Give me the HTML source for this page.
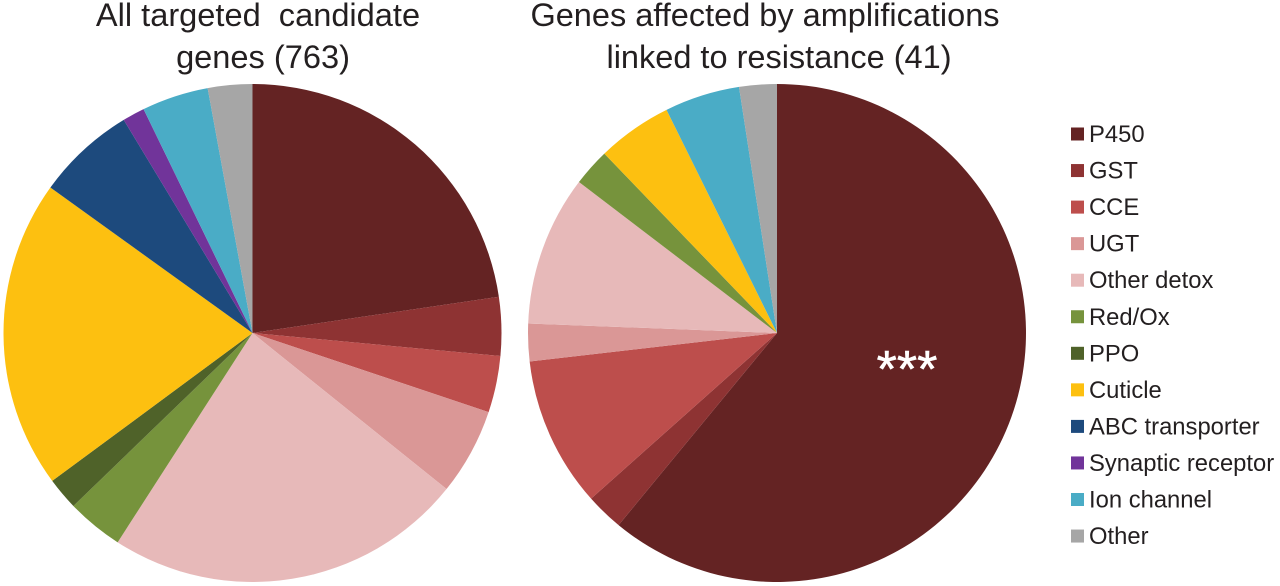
<!DOCTYPE html>
<html>
<head>
<meta charset="utf-8">
<style>
html,body{margin:0;padding:0;background:#fff;width:1280px;height:586px;overflow:hidden}
svg{display:block}
text{font-family:"Liberation Sans",sans-serif;fill:#231f20}
</style>
</head>
<body>
<svg id="chart" width="1280" height="586" viewBox="0 0 1280 586" xmlns="http://www.w3.org/2000/svg">
<text x="258" y="26" font-size="32.6" text-anchor="middle" xml:space="preserve" style="white-space:pre">All targeted  candidate</text>
<text x="263" y="68" font-size="32.6" text-anchor="middle">genes (763)</text>
<text x="765" y="26" font-size="32.5" text-anchor="middle">Genes affected by amplifications</text>
<text x="779" y="68" font-size="32.5" text-anchor="middle">linked to resistance (41)</text>
<g id="left-pie"></g>
<g id="right-pie"></g>
<text x="907" y="387" font-size="52" text-anchor="middle" style="fill:#fff;stroke:#fff;stroke-width:0.6">***</text>
<g id="legend"></g>
</svg>
<script>
const categories = ["P450","GST","CCE","UGT","Other detox","Red/Ox","PPO","Cuticle","ABC transporter","Synaptic receptor","Ion channel","Other"];
const allGenes = [173,29,28,43,178,28,16,153,49,11,33,22];
const amplifiedGenes = [25,1,4,1,4,1,0,2,0,0,2,1];
const colors = ["#642323","#8e3333","#bd4e4c","#da9796","#e7b9b9","#76933c","#4f6229","#fdc010","#1d4a7d","#71349a","#4aacc6","#a6a6a6"];

const NS = "http://www.w3.org/2000/svg";
const radius = 249;
const centerY = 333;

function polar(cx, cy, r, frac) {
  const a = frac * 2 * Math.PI;
  return [cx + r * Math.sin(a), cy - r * Math.cos(a)];
}

function drawPie(groupId, values, cx, prefix) {
  const g = document.getElementById(groupId);
  const total = values.reduce((s, v) => s + v, 0);
  let cum = 0;
  values.forEach((v, i) => {
    if (v <= 0) return;
    const start = cum / total;
    cum += v;
    const end = cum / total;
    const p0 = polar(cx, centerY, radius, start);
    const p1 = polar(cx, centerY, radius, end);
    const large = end - start > 0.5 ? 1 : 0;
    const path = document.createElementNS(NS, "path");
    path.setAttribute("d", "M" + cx + " " + centerY + "L" + p0[0] + " " + p0[1] + "A" + radius + " " + radius + " 0 " + large + " 1 " + p1[0] + " " + p1[1] + "Z");
    path.setAttribute("fill", colors[i]);
    
    
    g.appendChild(path);
  });
}

function drawLegend() {
  const g = document.getElementById("legend");
  categories.forEach((c, i) => {
    const y = 134 + i * 36.55;
    const rect = document.createElementNS(NS, "rect");
    rect.setAttribute("x", 1071);
    rect.setAttribute("y", y - 6.5);
    rect.setAttribute("width", 13);
    rect.setAttribute("height", 13);
    rect.setAttribute("fill", colors[i]);
    
    
    g.appendChild(rect);
    const t = document.createElementNS(NS, "text");
    t.setAttribute("x", 1089);
    t.setAttribute("y", y + 8);
    t.setAttribute("font-size", "23.8");
    
    
    t.textContent = c;
    g.appendChild(t);
  });
}

drawPie("left-pie", allGenes, 252.5, "left-pie");
drawPie("right-pie", amplifiedGenes, 777, "right-pie");
drawLegend();
</script>
</body>
</html>
